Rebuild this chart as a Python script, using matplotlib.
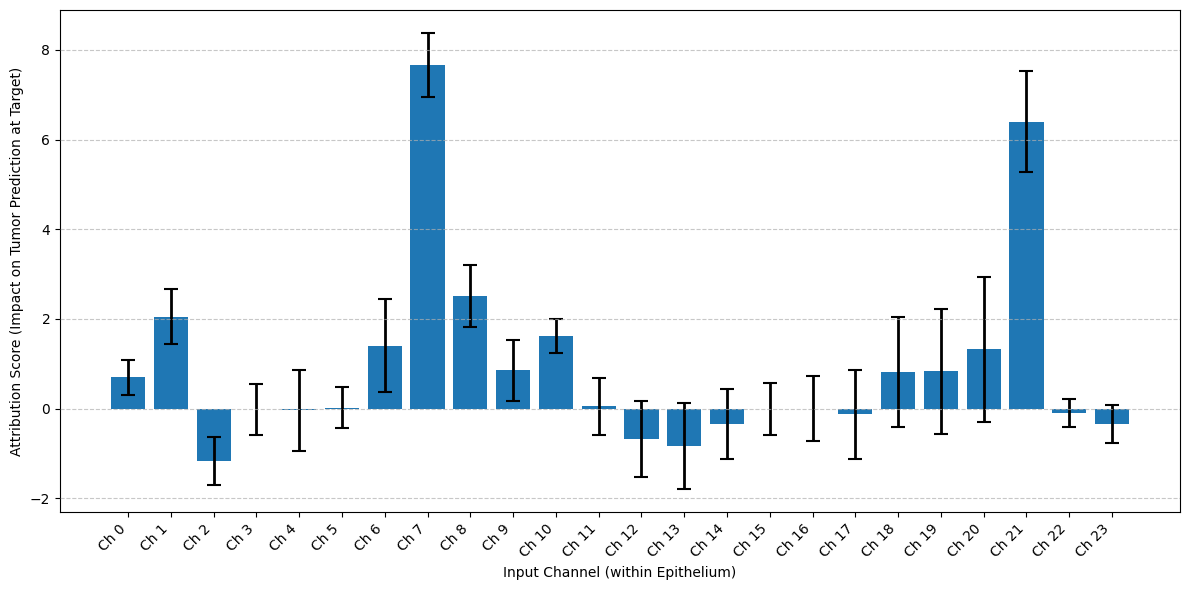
import matplotlib
matplotlib.use("Agg")
import matplotlib.pyplot as plt
import numpy as np

channels = [f"Ch {i}" for i in range(24)]
means = [0.70, 2.05, -1.17, -0.02, -0.04, 0.02, 1.40, 7.66, 2.51, 0.85, 1.62, 0.05,
         -0.68, -0.84, -0.35, -0.02, 0.00, -0.13, 0.81, 0.83, 1.32, 6.40, -0.09, -0.35]
errors = [0.39, 0.61, 0.54, 0.57, 0.91, 0.46, 1.04, 0.72, 0.70, 0.68, 0.37, 0.63,
          0.84, 0.96, 0.78, 0.58, 0.72, 0.99, 1.23, 1.40, 1.61, 1.12, 0.31, 0.42]

fig, ax = plt.subplots(figsize=(11.89, 5.9), dpi=100)
x = np.arange(len(channels))
ax.bar(x, means, yerr=errors, capsize=5, color="#1f77b4",
       error_kw=dict(ecolor="black", elinewidth=2, capthick=1.5))
ax.set_xticks(x)
ax.set_xticklabels(channels, rotation=45, ha="right")
ax.set_xlabel("Input Channel (within Epithelium)")
ax.set_ylabel("Attribution Score (Impact on Tumor Prediction at Target)")
ax.yaxis.grid(True, linestyle="--", alpha=0.7)
ax.set_axisbelow(False)
fig.subplots_adjust(left=0.0505, right=0.9924, top=0.983, bottom=0.132)
fig.savefig("out.png")
